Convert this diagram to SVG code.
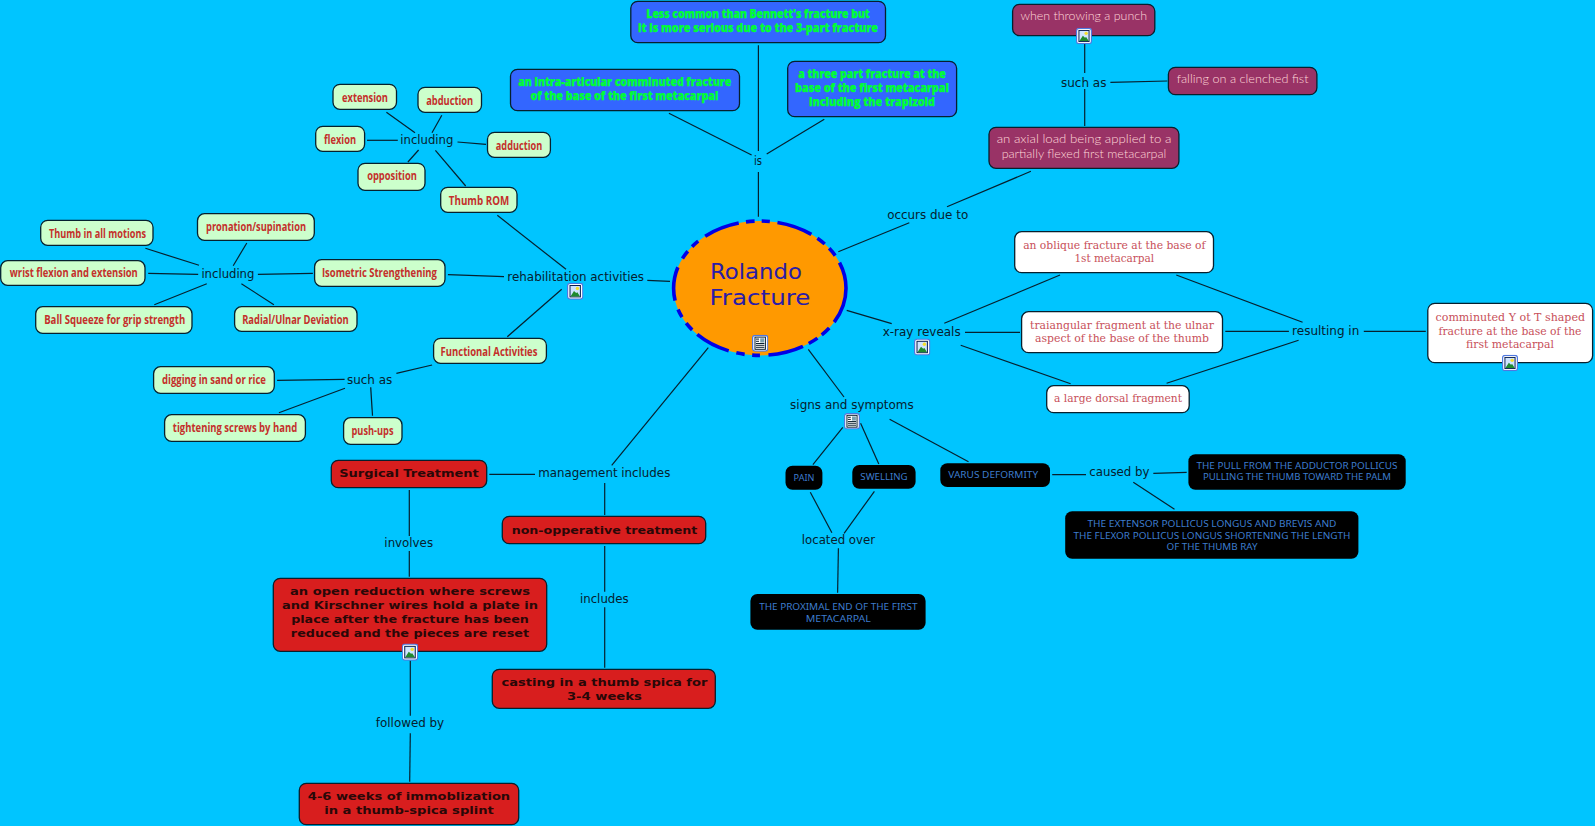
<svg xmlns="http://www.w3.org/2000/svg" width="1595" height="826" viewBox="0 0 1595 826">
<style>
text{text-anchor:middle}
.box{stroke:#06202e;stroke-width:1.3}
.g rect{fill:#ccffcc}.g text{font:700 11.5px "Open Sans",sans-serif;fill:#c4302b}
.u rect{fill:#3366ff}.u text{font:800 11.5px "Open Sans",sans-serif;fill:#00ff33;stroke:#00ff33;stroke-width:.25}
.m rect{fill:#993366}.m text{font:300 12.5px "Lato",sans-serif;fill:#ffd8d8}
.w rect{fill:#fff}.w text{font:400 11.5px "DejaVu Serif",serif;fill:#c8505a}
.k rect{fill:#000}.k text{font:400 9.5px "Noto Sans",sans-serif;fill:#3d7ccc}
.r rect{fill:#d81e1e}.r text{font:700 11.2px "DejaVu Sans",sans-serif;fill:#2a0808}
.l text{font:400 13px "DejaVu Sans",sans-serif;fill:#06202e}
#connectors line{stroke:#06202e;stroke-width:1.2}
</style>
<defs>
<symbol id="ico-img" viewBox="0 0 16.4 17">
<rect x="0.6" y="0.6" width="15.2" height="15.8" rx="2.5" fill="#fff" stroke="#4f78e0" stroke-width="1.2"/>
<rect x="3" y="2.8" width="10.4" height="11.4" fill="#cfe4ff" stroke="#0a2050" stroke-width="1"/>
<circle cx="10.4" cy="5.8" r="1.7" fill="#f6e030"/>
<path d="M3.5 13.7L7 8.2l2.2 2 1.2-.6 2.6 4.1z" fill="#1f8a2e"/>
</symbol>
<symbol id="ico-doc" viewBox="0 0 16.4 17">
<rect x="0.6" y="0.6" width="15.2" height="15.8" rx="2.5" fill="#fff" stroke="#4f78e0" stroke-width="1.2"/>
<rect x="3" y="2.4" width="10.4" height="12.2" fill="#fff" stroke="#0a2030" stroke-width="1"/>
<rect x="8.2" y="3.6" width="4" height="4.2" fill="#7aa0b0"/>
<path d="M4 4.4h3M4 6.6h3M4 8.8h8.4M4 10.6h8.4M4 12.6h8.4" stroke="#0a2030" stroke-width="1"/>
</symbol>
</defs>
<rect width="1595" height="826" fill="#00c5ff"/>
<g id="connectors">
<line x1="386.4" y1="112.3" x2="415" y2="132.7"/>
<line x1="441.8" y1="115.3" x2="432" y2="132.7"/>
<line x1="367" y1="140.3" x2="397.8" y2="140.3"/>
<line x1="457.5" y1="142" x2="486" y2="144.3"/>
<line x1="418.6" y1="150" x2="407.9" y2="162"/>
<line x1="435.4" y1="150.3" x2="465.7" y2="186"/>
<line x1="497.3" y1="215.3" x2="566" y2="269.3"/>
<line x1="246.8" y1="243" x2="233.2" y2="265.7"/>
<line x1="145.4" y1="248.3" x2="199" y2="265.3"/>
<line x1="148.2" y1="273.3" x2="198.2" y2="274.3"/>
<line x1="257.9" y1="274.3" x2="312.9" y2="273.3"/>
<line x1="154.3" y1="304.7" x2="206.8" y2="283.7"/>
<line x1="241.4" y1="283.7" x2="273.9" y2="304.7"/>
<line x1="447.9" y1="274.7" x2="504" y2="276.7"/>
<line x1="507.3" y1="336.7" x2="561.7" y2="289.3"/>
<line x1="432.1" y1="365" x2="396.4" y2="373.3"/>
<line x1="277.1" y1="380.3" x2="344.6" y2="379.3"/>
<line x1="278.9" y1="412.7" x2="345" y2="388.3"/>
<line x1="370.7" y1="387.3" x2="372.5" y2="415.7"/>
<line x1="647.3" y1="280.3" x2="670" y2="281.3"/>
<line x1="758.4" y1="45.3" x2="758.4" y2="151"/>
<line x1="758.4" y1="172" x2="758.4" y2="216.7"/>
<line x1="668.9" y1="113.3" x2="751.6" y2="155"/>
<line x1="824.3" y1="119.3" x2="766.7" y2="154"/>
<line x1="1084.7" y1="44" x2="1084.7" y2="73"/>
<line x1="1084.7" y1="89" x2="1084.7" y2="126"/>
<line x1="1110.4" y1="82.3" x2="1167.4" y2="81"/>
<line x1="1030.9" y1="171.3" x2="947" y2="206.7"/>
<line x1="909.3" y1="222.7" x2="838.3" y2="251.7"/>
<line x1="846.7" y1="310.3" x2="891.7" y2="323.7"/>
<line x1="1060" y1="275" x2="944.3" y2="323.3"/>
<line x1="1020" y1="332.3" x2="965" y2="332.3"/>
<line x1="1070.6" y1="383.7" x2="960.7" y2="345.3"/>
<line x1="1176.3" y1="275" x2="1302.6" y2="322.3"/>
<line x1="1225.3" y1="331.3" x2="1288.9" y2="331.3"/>
<line x1="1166.6" y1="383.3" x2="1298.6" y2="340.3"/>
<line x1="1363.8" y1="331.3" x2="1425.8" y2="331.3"/>
<line x1="808.3" y1="349.3" x2="844" y2="397"/>
<line x1="842.8" y1="427.3" x2="812.9" y2="464.7"/>
<line x1="860.6" y1="423.3" x2="878.8" y2="464"/>
<line x1="889.6" y1="419.3" x2="968.5" y2="461.7"/>
<line x1="1052.2" y1="474.7" x2="1086" y2="474.7"/>
<line x1="1153.3" y1="473.3" x2="1186.7" y2="472.3"/>
<line x1="1133.3" y1="482.3" x2="1174.5" y2="509.3"/>
<line x1="810.3" y1="492.3" x2="831.9" y2="532.7"/>
<line x1="874.4" y1="491.3" x2="844.1" y2="533.3"/>
<line x1="838.4" y1="548.3" x2="837.6" y2="592.7"/>
<line x1="708.3" y1="347.7" x2="611.7" y2="465.3"/>
<line x1="489.3" y1="474.3" x2="535" y2="474.3"/>
<line x1="604.7" y1="483" x2="604.7" y2="515"/>
<line x1="604.7" y1="546" x2="604.7" y2="591.7"/>
<line x1="604.7" y1="607.3" x2="604.7" y2="667.7"/>
<line x1="409.3" y1="490" x2="409.3" y2="536"/>
<line x1="409.3" y1="551" x2="409.3" y2="576.7"/>
<line x1="410.3" y1="660.7" x2="410.3" y2="715.7"/>
<line x1="410.3" y1="733.3" x2="409.7" y2="781.7"/>
</g>
<g id="n-center">
<ellipse cx="759.8" cy="288.2" rx="86.2" ry="67.2" fill="#ff9900" stroke="#0000e6" stroke-width="3.6" pathLength="488.2" stroke-dasharray="37 7.8 10.2 5.4 10.3 6.5 36 8.7 8 7.5 8.6 7.9 36 6.8 9.2 7.3 8.7 9.5 34.5 10 9 6.4 8.2 8.7 36.5 7.4 8.7 7.3 8.3 7.7 36.4 7.2 9.4 6.3 9.5 8.4 27.7 0"/>
<text x="756" y="279.3" font-family="'DejaVu Sans',sans-serif" font-size="20.5" fill="#2a1ca8" textLength="92" lengthAdjust="spacingAndGlyphs">Rolando</text>
<text x="760" y="305.3" font-family="'DejaVu Sans',sans-serif" font-size="20.5" fill="#2a1ca8" textLength="101" lengthAdjust="spacingAndGlyphs">Fracture</text>
<use href="#ico-doc" x="752" y="334.7" width="16.4" height="17"/>
</g>
<g id="n-extension" class="g"><rect class="box" x="333" y="84.3" width="63.5" height="25" rx="7"/><text x="365" y="101.5" textLength="46" lengthAdjust="spacingAndGlyphs">extension</text></g>
<g id="n-abduction" class="g"><rect class="box" x="418" y="87.3" width="63.5" height="25" rx="7"/><text x="449.7" y="105" textLength="47" lengthAdjust="spacingAndGlyphs">abduction</text></g>
<g id="n-flexion" class="g"><rect class="box" x="315.7" y="126.3" width="48.9" height="25" rx="7"/><text x="340" y="144" textLength="32" lengthAdjust="spacingAndGlyphs">flexion</text></g>
<g id="n-adduction" class="g"><rect class="box" x="487.5" y="132.3" width="62.9" height="25" rx="7"/><text x="519" y="150" textLength="46.4" lengthAdjust="spacingAndGlyphs">adduction</text></g>
<g id="n-opposition" class="g"><rect class="box" x="358" y="163.3" width="67" height="27" rx="7"/><text x="392" y="180" textLength="49.6" lengthAdjust="spacingAndGlyphs">opposition</text></g>
<g id="n-thumbrom" class="g"><rect class="box" x="440.7" y="187.3" width="76.3" height="25" rx="7"/><text x="479" y="205" textLength="60.4" lengthAdjust="spacingAndGlyphs">Thumb ROM</text></g>
<g id="n-pronation" class="g"><rect class="box" x="197.5" y="213.7" width="116.8" height="26.6" rx="7"/><text x="256" y="230.7" textLength="100" lengthAdjust="spacingAndGlyphs">pronation/supination</text></g>
<g id="n-allmotions" class="g"><rect class="box" x="40.7" y="220.3" width="112.3" height="25" rx="7"/><text x="97.5" y="237.7" textLength="97" lengthAdjust="spacingAndGlyphs">Thumb in all motions</text></g>
<g id="n-wrist" class="g"><rect class="box" x="0.7" y="260.7" width="144.3" height="24.6" rx="7"/><text x="73.8" y="277" textLength="128" lengthAdjust="spacingAndGlyphs">wrist flexion and extension</text></g>
<g id="n-isometric" class="g"><rect class="box" x="314.6" y="259.7" width="130.4" height="26.6" rx="7"/><text x="379.4" y="277" textLength="115" lengthAdjust="spacingAndGlyphs">Isometric Strengthening</text></g>
<g id="n-ball" class="g"><rect class="box" x="35.7" y="306.7" width="156.3" height="26.6" rx="7"/><text x="114.7" y="324" textLength="141" lengthAdjust="spacingAndGlyphs">Ball Squeeze for grip strength</text></g>
<g id="n-radial" class="g"><rect class="box" x="234.6" y="306.7" width="122.4" height="24.6" rx="7"/><text x="295.4" y="324" textLength="106.4" lengthAdjust="spacingAndGlyphs">Radial/Ulnar Deviation</text></g>
<g id="n-functional" class="g"><rect class="box" x="433.6" y="338.3" width="112.8" height="25" rx="7"/><text x="489" y="356" textLength="96.8" lengthAdjust="spacingAndGlyphs">Functional Activities</text></g>
<g id="n-digging" class="g"><rect class="box" x="153.6" y="366.7" width="120.7" height="26.6" rx="7"/><text x="214" y="384" textLength="104" lengthAdjust="spacingAndGlyphs">digging in sand or rice</text></g>
<g id="n-tightening" class="g"><rect class="box" x="164.6" y="414.7" width="140.8" height="26.6" rx="7"/><text x="235" y="432" textLength="124.3" lengthAdjust="spacingAndGlyphs">tightening screws by hand</text></g>
<g id="n-pushups" class="g"><rect class="box" x="343.6" y="417.7" width="58.4" height="26.6" rx="7"/><text x="372.5" y="435" textLength="42" lengthAdjust="spacingAndGlyphs">push-ups</text></g>
<g id="n-lesscommon" class="u"><rect class="box" x="630.8" y="1.3" width="254.7" height="41.4" rx="7"/><text x="758" y="17.7" textLength="223.3" lengthAdjust="spacingAndGlyphs">Less common than Bennett's fracture but</text><text x="758" y="32.3" textLength="240" lengthAdjust="spacingAndGlyphs">it is more serious due to the 3-part fracture</text></g>
<g id="n-intra" class="u"><rect class="box" x="510.5" y="69.3" width="229" height="41.4" rx="7"/><text x="624.7" y="86" textLength="212.9" lengthAdjust="spacingAndGlyphs">an intra-articular comminuted fracture</text><text x="624.4" y="100.3" textLength="188" lengthAdjust="spacingAndGlyphs">of the base of the first metacarpal</text></g>
<g id="n-threepart" class="u"><rect class="box" x="787.7" y="61.3" width="168.9" height="55.4" rx="7"/><text x="872" y="77.7" textLength="147.5" lengthAdjust="spacingAndGlyphs">a three part fracture at the</text><text x="872" y="92" textLength="153.8" lengthAdjust="spacingAndGlyphs">base of the first metacarpal</text><text x="872" y="106.3" textLength="126" lengthAdjust="spacingAndGlyphs">including the trapizoid</text></g>
<g id="n-punch" class="m"><rect class="box" x="1012.6" y="4.3" width="142.2" height="31.4" rx="7"/><text x="1083.7" y="20" textLength="126.6" lengthAdjust="spacingAndGlyphs">when throwing a punch</text><use href="#ico-img" x="1076" y="27.7" width="16" height="16.6"/></g>
<g id="n-falling" class="m"><rect class="box" x="1168.4" y="67.3" width="148.5" height="27.4" rx="7"/><text x="1242.6" y="83.3" textLength="131.8" lengthAdjust="spacingAndGlyphs">falling on a clenched fist</text></g>
<g id="n-axial" class="m"><rect class="box" x="989" y="127.3" width="189.9" height="41" rx="7"/><text x="1084" y="143.3" textLength="174.7" lengthAdjust="spacingAndGlyphs">an axial load being applied to a</text><text x="1084" y="157.7" textLength="164.7" lengthAdjust="spacingAndGlyphs">partially flexed first metacarpal</text></g>
<g id="n-oblique" class="w"><rect class="box" x="1014.7" y="231.7" width="198.8" height="41" rx="7"/><text x="1114.3" y="249" textLength="182.3" lengthAdjust="spacingAndGlyphs">an oblique fracture at the base of</text><text x="1114.3" y="262.3" textLength="79.8" lengthAdjust="spacingAndGlyphs">1st metacarpal</text></g>
<g id="n-triangular" class="w"><rect class="box" x="1021.6" y="311.7" width="200.9" height="41" rx="7"/><text x="1122" y="329" textLength="183.9" lengthAdjust="spacingAndGlyphs">traiangular fragment at the ulnar</text><text x="1122" y="342.3" textLength="173.8" lengthAdjust="spacingAndGlyphs">aspect of the base of the thumb</text></g>
<g id="n-dorsal" class="w"><rect class="box" x="1046.7" y="385.7" width="142.5" height="27" rx="7"/><text x="1118" y="401.7" textLength="128" lengthAdjust="spacingAndGlyphs">a large dorsal fragment</text></g>
<g id="n-comminuted" class="w"><rect class="box" x="1427.8" y="303.3" width="164.8" height="59.4" rx="7"/><text x="1510.3" y="321.3" textLength="149.5" lengthAdjust="spacingAndGlyphs">comminuted Y ot T shaped</text><text x="1510" y="334.7" textLength="143" lengthAdjust="spacingAndGlyphs">fracture at the base of the</text><text x="1510" y="348" textLength="87.9" lengthAdjust="spacingAndGlyphs">first metacarpal</text><use href="#ico-img" x="1502" y="354.7" width="16" height="16.6"/></g>
<g id="n-pain" class="k"><rect x="785.5" y="465.7" width="36.9" height="24" rx="7"/><text x="804" y="480.7" textLength="20.8" lengthAdjust="spacingAndGlyphs">PAIN</text></g>
<g id="n-swelling" class="k"><rect x="852.3" y="465" width="63.3" height="23.7" rx="7"/><text x="884" y="480" textLength="47.3" lengthAdjust="spacingAndGlyphs">SWELLING</text></g>
<g id="n-varus" class="k"><rect x="940.3" y="463.3" width="109.7" height="23.7" rx="7"/><text x="993.2" y="478" textLength="89.8" lengthAdjust="spacingAndGlyphs">VARUS DEFORMITY</text></g>
<g id="n-pull" class="k"><rect x="1188.4" y="454.3" width="217.3" height="35.4" rx="7"/><text x="1297" y="469" textLength="201" lengthAdjust="spacingAndGlyphs">THE PULL FROM THE ADDUCTOR POLLICUS</text><text x="1297" y="480.3" textLength="188" lengthAdjust="spacingAndGlyphs">PULLING THE THUMB TOWARD THE PALM</text></g>
<g id="n-extensor" class="k"><rect x="1065.2" y="511.3" width="293.2" height="47.4" rx="7"/><text x="1212" y="527.3" textLength="249" lengthAdjust="spacingAndGlyphs">THE EXTENSOR POLLICUS LONGUS AND BREVIS AND</text><text x="1212" y="538.7" textLength="277" lengthAdjust="spacingAndGlyphs">THE FLEXOR POLLICUS LONGUS SHORTENING THE LENGTH</text><text x="1212" y="550" textLength="91" lengthAdjust="spacingAndGlyphs">OF THE THUMB RAY</text></g>
<g id="n-proximal" class="k"><rect x="750.4" y="594" width="175.2" height="35.7" rx="7"/><text x="838.3" y="610.3" textLength="158.3" lengthAdjust="spacingAndGlyphs">THE PROXIMAL END OF THE FIRST</text><text x="838.3" y="621.7" textLength="65" lengthAdjust="spacingAndGlyphs">METACARPAL</text></g>
<g id="n-surgical" class="r"><rect class="box" x="331.3" y="460.3" width="155.4" height="27.4" rx="7"/><text x="409" y="477" textLength="139.7" lengthAdjust="spacingAndGlyphs">Surgical Treatment</text></g>
<g id="n-nonop" class="r"><rect class="box" x="502.3" y="516.3" width="203.4" height="27.4" rx="7"/><text x="604.5" y="534" textLength="185.7" lengthAdjust="spacingAndGlyphs">non-opperative treatment</text></g>
<g id="n-open" class="r"><rect class="box" x="273.3" y="578.3" width="273.4" height="73" rx="7"/><text x="410" y="595" textLength="240" lengthAdjust="spacingAndGlyphs">an open reduction where screws</text><text x="410" y="609" textLength="256" lengthAdjust="spacingAndGlyphs">and Kirschner wires hold a plate in</text><text x="410" y="623.3" textLength="237.7" lengthAdjust="spacingAndGlyphs">place after the fracture has been</text><text x="410" y="637.3" textLength="238.3" lengthAdjust="spacingAndGlyphs">reduced and the pieces are reset</text><use href="#ico-img" x="401.7" y="643.5" width="16.6" height="17.2"/></g>
<g id="n-casting" class="r"><rect class="box" x="492.3" y="669.3" width="223" height="39" rx="7"/><text x="604.4" y="686" textLength="206" lengthAdjust="spacingAndGlyphs">casting in a thumb spica for</text><text x="604.4" y="700" textLength="75" lengthAdjust="spacingAndGlyphs">3-4 weeks</text></g>
<g id="n-immob" class="r"><rect class="box" x="299.3" y="783.3" width="219.4" height="41.4" rx="7"/><text x="409" y="800" textLength="202.3" lengthAdjust="spacingAndGlyphs">4-6 weeks of immoblization</text><text x="409" y="814" textLength="169.7" lengthAdjust="spacingAndGlyphs">in a thumb-spica splint</text></g>
<g id="l-including1" class="l"><text x="426.8" y="144.2" textLength="53" lengthAdjust="spacingAndGlyphs">including</text></g>
<g id="l-including2" class="l"><text x="227.9" y="277.5" textLength="53" lengthAdjust="spacingAndGlyphs">including</text></g>
<g id="l-rehab" class="l"><text x="575.7" y="281" textLength="136.7" lengthAdjust="spacingAndGlyphs">rehabilitation activities</text><use href="#ico-img" x="567" y="282.7" width="16.4" height="17"/></g>
<g id="l-suchas1" class="l"><text x="369.6" y="383.5" textLength="45.4" lengthAdjust="spacingAndGlyphs">such as</text></g>
<g id="l-is" class="l"><text x="758" y="164.8" textLength="8" lengthAdjust="spacingAndGlyphs">is</text></g>
<g id="l-suchas2" class="l"><text x="1083.7" y="86.5" textLength="45.5" lengthAdjust="spacingAndGlyphs">such as</text></g>
<g id="l-occurs" class="l"><text x="927.7" y="218.5" textLength="81" lengthAdjust="spacingAndGlyphs">occurs due to</text></g>
<g id="l-xray" class="l"><text x="921.7" y="335.7" textLength="78" lengthAdjust="spacingAndGlyphs">x-ray reveals</text><use href="#ico-img" x="914" y="338.5" width="16.4" height="17"/></g>
<g id="l-resulting" class="l"><text x="1325.7" y="335" textLength="67.2" lengthAdjust="spacingAndGlyphs">resulting in</text></g>
<g id="l-signs" class="l"><text x="851.9" y="409.3" textLength="123.6" lengthAdjust="spacingAndGlyphs">signs and symptoms</text><use href="#ico-doc" x="844" y="413" width="16" height="16.5"/></g>
<g id="l-located" class="l"><text x="838.4" y="544" textLength="73.3" lengthAdjust="spacingAndGlyphs">located over</text></g>
<g id="l-caused" class="l"><text x="1119.4" y="476" textLength="60.3" lengthAdjust="spacingAndGlyphs">caused by</text></g>
<g id="l-management" class="l"><text x="604.3" y="477" textLength="132" lengthAdjust="spacingAndGlyphs">management includes</text></g>
<g id="l-involves" class="l"><text x="408.7" y="547" textLength="48.7" lengthAdjust="spacingAndGlyphs">involves</text></g>
<g id="l-includes" class="l"><text x="604.3" y="603" textLength="48.7" lengthAdjust="spacingAndGlyphs">includes</text></g>
<g id="l-followed" class="l"><text x="410" y="727" textLength="68.3" lengthAdjust="spacingAndGlyphs">followed by</text></g>
</svg>
